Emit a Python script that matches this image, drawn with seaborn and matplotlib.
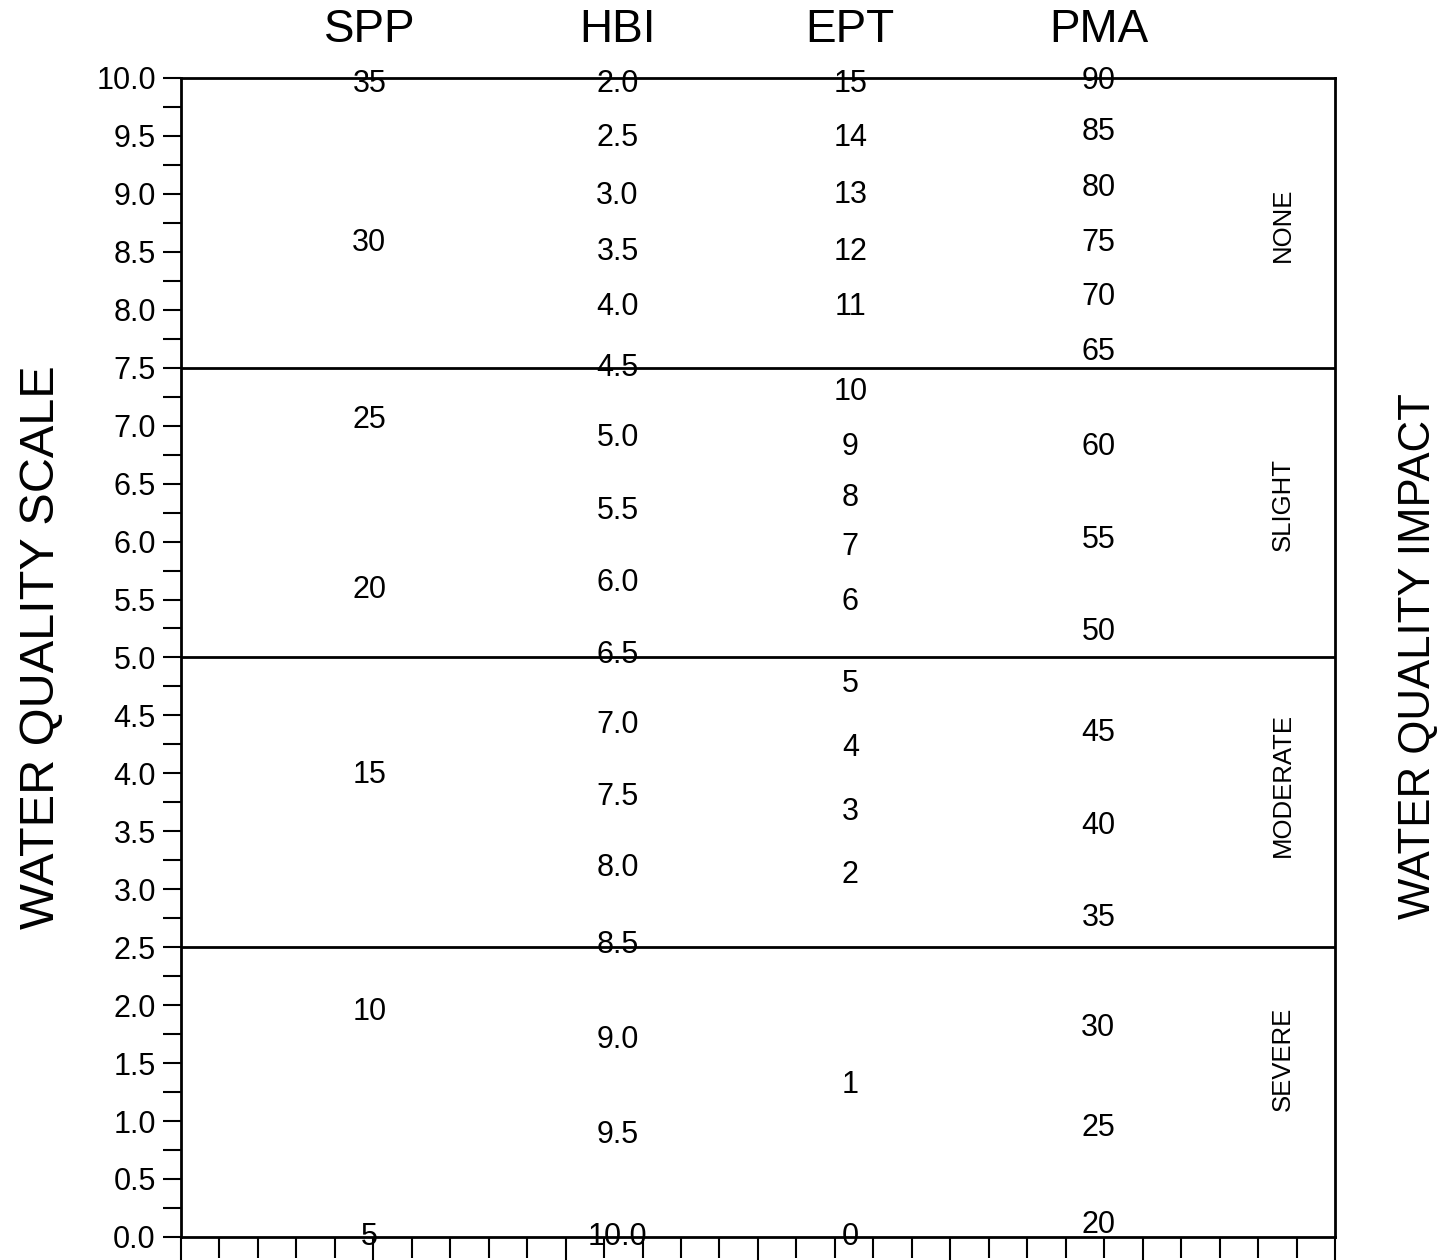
import numpy as np
import pandas as pd
import matplotlib
matplotlib.use("Agg")
import matplotlib.pyplot as plt
from matplotlib.ticker import MultipleLocator
import seaborn as sns

# column headers and their x positions (axis units)
colunas = ["SPP", "HBI", "EPT", "PMA"]
col_x = [0.98, 2.27, 3.48, 4.77]

# values printed in each column and where they sit on the quality scale
spp_txt = ["35", "30", "25", "20", "15", "10", "5"]
spp_y = [9.95, 8.58, 7.05, 5.58, 3.99, 1.94, 0.0]

hbi_txt = ["2.0", "2.5", "3.0", "3.5", "4.0", "4.5", "5.0", "5.5", "6.0", "6.5",
           "7.0", "7.5", "8.0", "8.5", "9.0", "9.5", "10.0"]
hbi_y = [9.95, 9.48, 8.98, 8.50, 8.02, 7.50, 6.89, 6.26, 5.64, 5.02,
         4.42, 3.80, 3.18, 2.52, 1.70, 0.88, 0.0]

ept_txt = ["15", "14", "13", "12", "11", "10", "9", "8", "7", "6",
           "5", "4", "3", "2", "1", "0"]
ept_y = [9.95, 9.48, 8.99, 8.50, 8.02, 7.29, 6.82, 6.38, 5.95, 5.48,
         4.77, 4.22, 3.67, 3.12, 1.31, 0.0]

pma_txt = ["90", "85", "80", "75", "70", "65", "60", "55", "50", "45",
           "40", "35", "30", "25", "20"]
pma_y = [9.97, 9.53, 9.05, 8.58, 8.11, 7.64, 6.82, 6.01, 5.22, 4.35,
         3.55, 2.75, 1.80, 0.94, 0.10]

# impact classes
impacto = ["NONE", "SLIGHT", "MODERATE", "SEVERE"]
impacto_y = [8.73, 6.32, 3.90, 1.54]
impacto_x = 5.73

# class boundaries
limites = [7.5, 5.0, 2.5]

sns.set_style("ticks")
plt.rcParams["font.family"] = ["Liberation Sans", "DejaVu Sans"]
plt.rcParams["text.color"] = "black"
plt.rcParams["axes.labelcolor"] = "black"
plt.rcParams["xtick.color"] = "black"
plt.rcParams["ytick.color"] = "black"
plt.rcParams["axes.edgecolor"] = "black"

fig = plt.figure(figsize=(14.47, 12.6), dpi=100)
ax = fig.add_axes([0.125, 0.0183, 0.7976, 0.9198])

ax.set_xlim(0, 6)
ax.set_ylim(0, 10)

# boundary lines
ax.hlines(limites, 0, 6, color="black", linewidth=2)

# column values
colunas_txt = [spp_txt, hbi_txt, ept_txt, pma_txt]
colunas_y = [spp_y, hbi_y, ept_y, pma_y]
for x, txts, ys in zip(col_x, colunas_txt, colunas_y):
    for t, y in zip(txts, ys):
        ax.text(x, y, t, ha="center", va="center", fontsize=22)

# headers
for x, nome in zip(col_x, colunas):
    ax.text(x, 10.41, nome, ha="center", va="center", fontsize=33)

# impact labels
for nome, y in zip(impacto, impacto_y):
    ax.text(impacto_x, y, nome, ha="center", va="center", rotation=90, fontsize=18.5)

# axes
ax.yaxis.set_major_locator(MultipleLocator(0.5))
ax.yaxis.set_minor_locator(MultipleLocator(0.25))
ax.yaxis.set_major_formatter(matplotlib.ticker.FormatStrFormatter("%.1f"))
ax.xaxis.set_major_locator(MultipleLocator(1))
ax.xaxis.set_minor_locator(MultipleLocator(0.2))
ax.set_xticklabels([])
ax.tick_params(axis="y", which="both", length=13, width=1.5, labelsize=22, pad=5, direction="out")
ax.tick_params(axis="x", which="major", length=24, width=1.5, direction="out")
ax.tick_params(axis="x", which="minor", length=15, width=1.5, direction="out")

for s in ax.spines.values():
    s.set_linewidth(2)

fig.text(0.029, 0.4865, "WATER QUALITY SCALE", rotation=90, ha="center", va="center", fontsize=35)
fig.text(0.98, 0.479, "WATER QUALITY IMPACT", rotation=90, ha="center", va="center", fontsize=31.5)

fig.savefig("out.png", dpi=100)
